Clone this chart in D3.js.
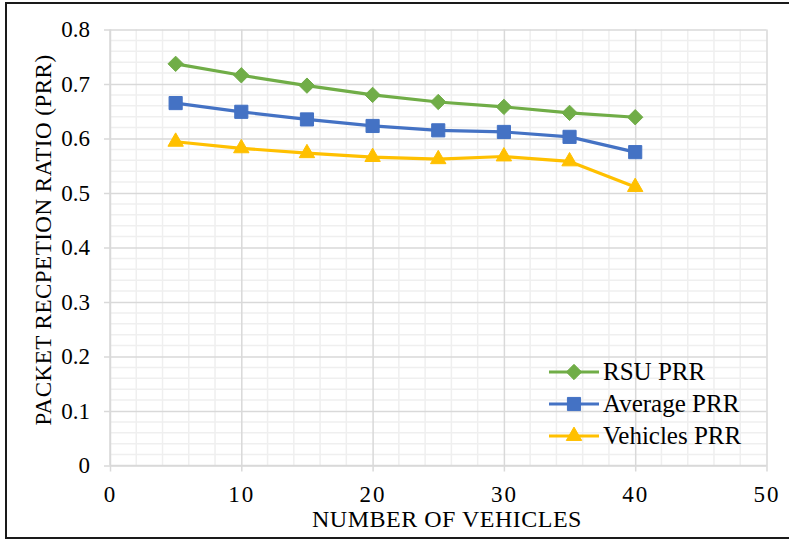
<!DOCTYPE html>
<html>
<head>
<meta charset="utf-8">
<script src="https://cdn.jsdelivr.net/npm/d3@7/dist/d3.min.js"></script>
<style>
  html, body { margin: 0; padding: 0; background: #fff; }
</style>
</head>
<body>
<svg id="chart" width="789" height="540" font-family="'Times New Roman', 'Liberation Serif', serif"></svg>
<script>
// Number of vehicles on the x axis
const vehicles = [5, 10, 15, 20, 25, 30, 35, 40];

// Packet reception ratio per series
const rsuPRR      = [0.737, 0.716, 0.697, 0.680, 0.667, 0.658, 0.647, 0.639];
const averagePRR  = [0.665, 0.649, 0.635, 0.623, 0.615, 0.612, 0.603, 0.575];
const vehiclesPRR = [0.594, 0.582, 0.573, 0.566, 0.562, 0.567, 0.558, 0.511];

const seriesNames = ["RSU PRR", "Average PRR", "Vehicles PRR"];
const xTicks = [0, 10, 20, 30, 40, 50];
const yTicks = [0, 0.1, 0.2, 0.3, 0.4, 0.5, 0.6, 0.7, 0.8];

const FONT = "'Times New Roman', 'Liberation Serif', serif";

const series = [
  { name: seriesNames[0], values: rsuPRR,      color: "#70AD47", symbol: d3.symbolDiamond2,  size: 150 },
  { name: seriesNames[1], values: averagePRR,  color: "#4472C4", symbol: d3.symbolSquare2,   size: 220 },
  { name: seriesNames[2], values: vehiclesPRR, color: "#FFC000", symbol: d3.symbolTriangle2, size: 170 }
];

const svg = d3.select("#chart");

// outer frame
svg.append("rect")
  .attr("x", 6).attr("y", 3)
  .attr("width", 800).attr("height", 535)
  .attr("fill", "#fff").attr("stroke", "#1a1a1a").attr("stroke-width", 2);

const x = d3.scaleLinear().domain([0, 50]).range([110, 766.5]);
const y = d3.scaleLinear().domain([0, 0.8]).range([465.5, 29.5]);

// minor grid
const xMinor = d3.range(0, 50.001, 2).filter(v => v % 10 !== 0);
const yMinor = d3.range(0, 0.8001, 0.02).filter(v => Math.abs(v * 10 - Math.round(v * 10)) > 1e-6);

const grid = svg.append("g");
grid.selectAll("line.xm").data(xMinor).join("line")
  .attr("x1", d => x(d)).attr("x2", d => x(d))
  .attr("y1", y(0)).attr("y2", y(0.8))
  .attr("stroke", "#efefef").attr("stroke-width", 1.5);
grid.selectAll("line.ym").data(yMinor).join("line")
  .attr("x1", x(0)).attr("x2", x(50))
  .attr("y1", d => y(d)).attr("y2", d => y(d))
  .attr("stroke", "#efefef").attr("stroke-width", 1.5);

// major grid with tick marks
const yAxis = d3.axisLeft(y).tickValues(yTicks)
  .tickSize(-(x(50) - x(0))).tickPadding(12)
  .tickFormat(d => d === 0 ? "0" : d3.format(".1f")(d));
const gy = svg.append("g").attr("transform", `translate(${x(0)},0)`).call(yAxis)
  .attr("font-family", FONT).attr("font-size", 23);
gy.select(".domain").remove();
gy.selectAll(".tick line").attr("stroke", "#d9d9d9").attr("stroke-width", 1.5)
  .attr("x1", -6);
gy.selectAll(".tick text").attr("x", -20).attr("fill", "#000");

const xAxis = d3.axisBottom(x).tickValues(xTicks)
  .tickSize(-(y(0) - y(0.8))).tickPadding(14).tickFormat(d3.format("d"));
const gx = svg.append("g").attr("transform", `translate(0,${y(0)})`).call(xAxis)
  .attr("font-family", FONT).attr("font-size", 23);
gx.select(".domain").remove();
gx.selectAll(".tick line").attr("stroke", "#d9d9d9").attr("stroke-width", 1.5)
  .attr("y1", 6);
gx.selectAll(".tick text").attr("y", 20).attr("letter-spacing", "2px").attr("fill", "#000");

// axis lines
svg.append("line").attr("x1", x(0)).attr("x2", x(50)).attr("y1", y(0)).attr("y2", y(0))
  .attr("stroke", "#d9d9d9").attr("stroke-width", 1.5);
svg.append("line").attr("x1", x(0)).attr("x2", x(0)).attr("y1", y(0)).attr("y2", y(0.8))
  .attr("stroke", "#d9d9d9").attr("stroke-width", 1.5);

// series lines and markers
const line = d3.line().x((d, i) => x(vehicles[i])).y(d => y(d));
series.forEach(s => {
  svg.append("path").datum(s.values)
    .attr("d", line).attr("fill", "none")
    .attr("stroke", s.color).attr("stroke-width", 3.2).attr("stroke-linejoin", "round");
  svg.append("g").selectAll("path").data(s.values).join("path")
    .attr("d", d3.symbol().type(s.symbol).size(s.size))
    .attr("transform", (d, i) => `translate(${x(vehicles[i])},${y(d)})`)
    .attr("fill", s.color).attr("stroke", s.color).attr("stroke-width", 1);
});

// legend
const legend = svg.append("g").attr("font-family", FONT);
series.forEach((s, i) => {
  const ly = 372 + i * 32;
  legend.append("line").attr("x1", 549).attr("x2", 599).attr("y1", ly).attr("y2", ly)
    .attr("stroke", s.color).attr("stroke-width", 3.2);
  legend.append("path")
    .attr("d", d3.symbol().type(s.symbol).size(s.size))
    .attr("transform", `translate(574,${ly})`)
    .attr("fill", s.color).attr("stroke", s.color).attr("stroke-width", 1);
  legend.append("text").attr("x", 603).attr("y", ly + 8)
    .attr("font-size", 25).text(s.name);
});

// axis titles
svg.append("text").attr("x", 447).attr("y", 527).attr("font-family", FONT)
  .attr("text-anchor", "middle").attr("font-size", 24).attr("letter-spacing", "0.5px")
  .text("NUMBER OF VEHICLES");
svg.append("text").attr("font-family", FONT)
  .attr("transform", "translate(51,240) rotate(-90)")
  .attr("text-anchor", "middle").attr("font-size", 23).attr("letter-spacing", "0.5px")
  .text("PACKET RECPETION RATIO (PRR)");
</script>
</body>
</html>
